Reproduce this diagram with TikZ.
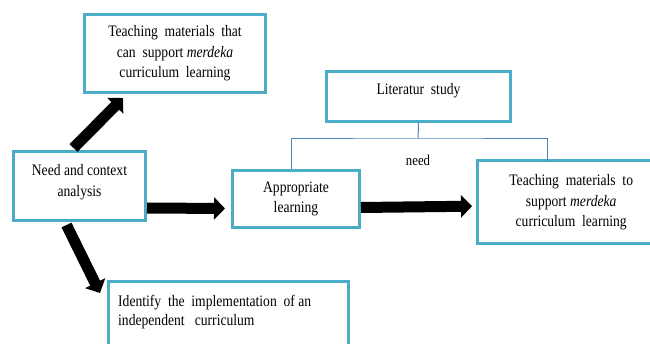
\documentclass[tikz,border=0pt]{standalone}
\usepackage{fontspec}
\setmainfont{Liberation Serif}[FakeStretch=0.85]
\usetikzlibrary{arrows.meta,calc}
\definecolor{boxc}{RGB}{75,172,198}
\definecolor{linec}{RGB}{79,129,189}
\begin{document}
\begin{tikzpicture}[x=1pt,y=-1pt,
  box/.style={draw=boxc,line width=3pt,fill=white,inner sep=0pt,anchor=north west,align=center,
    font=\fontsize{16}{20.5}\selectfont},
  openbox/.style={inner sep=0pt,anchor=north west,align=center,font=\fontsize{16}{20.5}\selectfont},
  boxline/.style={draw=boxc,line width=3pt},
  bigarrow/.style={line width=11pt,-{Triangle[width=22pt,length=11pt]}},
  conn/.style={draw=linec,line width=1pt},
  txt/.style={font=\fontsize{16}{19}\selectfont,inner sep=0pt}]
\useasboundingbox (0,0) rectangle (650,344);
\fill[white] (0,0) rectangle (650,344);
\coordinate (edgeR) at (650,0);
\coordinate (edgeB) at (0,344);
% boxes
\node[box,minimum width=181pt,minimum height=78pt] (top) at (83,13)
  {Teaching\ \ materials\ \ that\\ can\ \ support \textit{merdeka}\\ curriculum\ \ learning};
\node[box,minimum width=132pt,minimum height=69pt] (need) at (12,150)
  {Need\ and\ context\\ analysis\\[-9.5pt]};
\node[box,minimum width=184pt,minimum height=50pt] (lit) at (325,70)
  {Literatur\ \ study\\[-4.5pt]};
\node[box,minimum width=127pt,minimum height=57pt] (app) at (231,169)
  {Appropriate\\ learning};
\node[openbox,minimum width=188pt,minimum height=82pt] (right) at (477,161)
  {Teaching\ \ materials\ \ to\\ support \textit{merdeka}\\ curriculum\ \ learning};
\draw[boxline] (right.north west -| edgeR) -- (right.north west) -- (right.south west) -- (right.south west -| edgeR);
\node[openbox,minimum width=240pt,minimum height=60pt] (bot) at (108,282) {};
\draw[boxline] (bot.north west |- edgeB) -- (bot.north west) -- (bot.north east) -- (bot.north east |- edgeB);
\node[txt,anchor=north west,align=left] (bottxt) at ([xshift=10pt,yshift=-13pt]bot.north west)
  {Identify\ \ the\ \ implementation\ \ of\ an\\ independent\ \ \ curriculum};
% thin connectors
\coordinate (j) at (418,139);
\draw[conn] (lit.south) -- (j);
\draw[conn] ([xshift=-5pt]app.north) |- (j) -| ([xshift=-24pt]right.north);
\node[txt,font=\fontsize{15}{15}\selectfont] (needlbl) at (418,160) {need};
% big arrows
\draw[bigarrow] ([xshift=-6pt,yshift=2pt]need.north) -- ([xshift=40pt,yshift=-4pt]top.south west);
\draw[bigarrow] ([yshift=-22pt]need.east) -- ([xshift=-6pt,yshift=-9.5pt]app.west);
\draw[bigarrow] ([yshift=-8.5pt]app.east) -- ([xshift=-5pt,yshift=-4pt]right.west);
\draw[bigarrow] ([xshift=-13pt,yshift=-3pt]need.south) -- ([xshift=-8pt,yshift=-11pt]bot.north west);
\end{tikzpicture}
\end{document}
